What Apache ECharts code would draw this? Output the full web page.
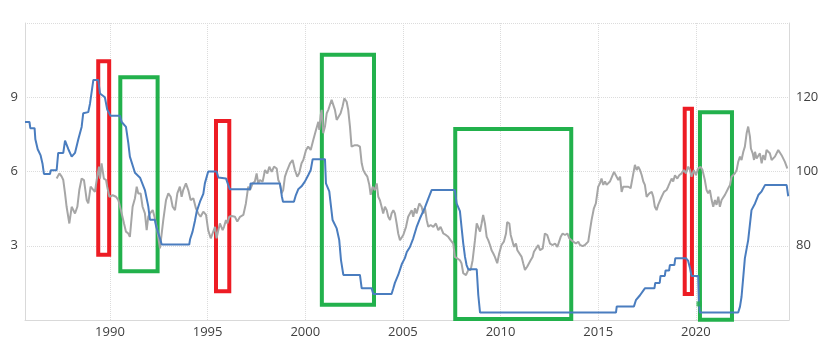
<!DOCTYPE html>
<html lang="en">
<head>
    <meta charset="utf-8">
    <script src="https://cdn.jsdelivr.net/npm/echarts@6/dist/echarts.min.js"></script>
    <title>rate_vs_index</title>
</head>
<body>
<style>
    html, body, #main {
        width: 100%;
        height: 100%;
        margin: 0;
        background: #fff;
    }
</style>
<div id='main'></div>
<script>
    // policy rate (left axis), step line
    var rateYears = [1985.65, 1985.88, 1985.92, 1986.14, 1986.18, 1986.30, 1986.45, 1986.55, 1986.62, 1986.93,
        1986.97, 1987.27, 1987.35, 1987.61, 1987.70, 1987.87, 1988.04, 1988.21, 1988.38, 1988.55,
        1988.63, 1988.89, 1988.98, 1989.15, 1989.40, 1989.49, 1989.74, 1989.86, 1990.03, 1990.51,
        1990.60, 1990.82, 1990.94, 1991.02, 1991.28, 1991.54, 1991.79, 1991.96, 1992.05, 1992.30,
        1992.36, 1992.56, 1992.65, 1994.06, 1994.10, 1994.23, 1994.35, 1994.44, 1994.61, 1994.78,
        1994.86, 1995.03, 1995.46, 1995.55, 1995.94, 1996.06, 1996.14, 1997.17, 1997.20, 1998.70,
        1998.76, 1998.80, 1998.86, 1999.42, 1999.52, 1999.64, 1999.81, 1999.98, 2000.15, 2000.28,
        2000.38, 2001.01, 2001.06, 2001.23, 2001.30, 2001.40, 2001.61, 2001.74, 2001.83, 2001.95,
        2002.80, 2002.89, 2003.40, 2003.48, 2004.42, 2004.51, 2004.59, 2004.76, 2004.94, 2005.10,
        2005.20, 2005.36, 2005.53, 2005.70, 2005.87, 2006.13, 2006.30, 2006.47, 2007.66, 2007.75,
        2007.92, 2008.00, 2008.09, 2008.18, 2008.26, 2008.35, 2008.78, 2008.86, 2008.95, 2015.91,
        2015.95, 2016.83, 2016.93, 2017.14, 2017.39, 2017.88, 2017.92, 2018.15, 2018.19, 2018.41,
        2018.45, 2018.63, 2018.67, 2018.90, 2018.95, 2019.49, 2019.60, 2019.70, 2019.78, 2020.12,
        2020.16, 2020.21, 2022.17, 2022.26, 2022.34, 2022.43, 2022.51, 2022.68, 2022.77, 2022.85,
        2023.03, 2023.20, 2023.37, 2023.54, 2024.65, 2024.73];
    var rateValues = [8.0, 8.0, 7.75, 7.75, 7.3, 6.9, 6.65, 6.3, 5.9, 5.9,
        6.05, 6.05, 6.75, 6.75, 7.25, 6.9, 6.6, 6.75, 7.3, 7.8,
        8.35, 8.4, 8.75, 9.7, 9.7, 9.15, 9.0, 8.5, 8.25, 8.25,
        8.0, 7.8, 7.15, 6.6, 5.95, 5.75, 5.25, 4.6, 4.05, 4.05,
        3.8, 3.3, 3.05, 3.05, 3.25, 3.57, 4.0, 4.38, 4.78, 5.1,
        5.52, 6.0, 6.0, 5.76, 5.72, 5.45, 5.28, 5.28, 5.52, 5.52,
        5.25, 5.0, 4.78, 4.78, 5.05, 5.28, 5.4, 5.59, 5.85, 6.06,
        6.5, 6.5, 5.52, 5.2, 4.71, 4.04, 3.7, 3.23, 2.42, 1.82,
        1.82, 1.28, 1.28, 1.05, 1.05, 1.28, 1.5, 1.82, 2.25, 2.5,
        2.75, 2.95, 3.3, 3.75, 4.1, 4.55, 4.9, 5.25, 5.25, 4.71,
        4.4, 3.77, 3.1, 2.55, 2.22, 2.05, 2.05, 1.01, 0.3, 0.3,
        0.55, 0.55, 0.8, 1.0, 1.28, 1.28, 1.5, 1.5, 1.78, 1.78,
        2.0, 2.0, 2.22, 2.22, 2.5, 2.5, 2.4, 2.1, 1.78, 1.78,
        0.65, 0.3, 0.3, 0.54, 0.94, 1.75, 2.49, 3.23, 3.3, 4.44,
        4.71, 5.05, 5.2, 5.45, 5.45, 5.0];

    // index (right axis)
    var indexYears = [1987.27, 1987.41, 1987.53, 1987.61, 1987.70, 1987.78, 1987.92, 1988.04, 1988.12, 1988.21,
        1988.33, 1988.43, 1988.55, 1988.67, 1988.81, 1988.89, 1989.01, 1989.11, 1989.23, 1989.32,
        1989.44, 1989.49, 1989.57, 1989.69, 1989.80, 1989.86, 1989.97, 1990.14, 1990.31, 1990.43,
        1990.60, 1990.72, 1990.82, 1990.94, 1991.02, 1991.16, 1991.28, 1991.37, 1991.45, 1991.57,
        1991.67, 1991.79, 1991.88, 1991.96, 1992.05, 1992.19, 1992.30, 1992.42, 1992.56, 1992.65,
        1992.73, 1992.87, 1992.99, 1993.11, 1993.21, 1993.33, 1993.45, 1993.58, 1993.67, 1993.75,
        1993.89, 1994.01, 1994.13, 1994.27, 1994.40, 1994.52, 1994.64, 1994.78, 1994.92, 1995.03,
        1995.16, 1995.26, 1995.38, 1995.46, 1995.55, 1995.63, 1995.77, 1995.84, 1995.94, 1996.01,
        1996.11, 1996.23, 1996.40, 1996.52, 1996.66, 1996.83, 1996.96, 1997.08, 1997.17, 1997.31,
        1997.42, 1997.51, 1997.59, 1997.68, 1997.82, 1997.94, 1998.06, 1998.16, 1998.28, 1998.40,
        1998.54, 1998.62, 1998.70, 1998.79, 1998.87, 1998.96, 1999.08, 1999.22, 1999.35, 1999.47,
        1999.59, 1999.69, 1999.81, 1999.90, 2000.04, 2000.15, 2000.28, 2000.41, 2000.55, 2000.67,
        2000.72, 2000.79, 2000.84, 2000.92, 2001.01, 2001.10, 2001.18, 2001.26, 2001.35, 2001.43,
        2001.52, 2001.61, 2001.69, 2001.81, 2001.91, 2002.00, 2002.12, 2002.20, 2002.29, 2002.37,
        2002.46, 2002.54, 2002.66, 2002.80, 2002.89, 2002.97, 2003.06, 2003.18, 2003.28, 2003.35,
        2003.45, 2003.57, 2003.66, 2003.74, 2003.82, 2003.91, 2003.99, 2004.08, 2004.17, 2004.25,
        2004.34, 2004.42, 2004.51, 2004.59, 2004.68, 2004.76, 2004.85, 2004.94, 2005.02, 2005.16,
        2005.27, 2005.36, 2005.45, 2005.53, 2005.62, 2005.70, 2005.84, 2005.96, 2006.04, 2006.13,
        2006.22, 2006.30, 2006.42, 2006.56, 2006.69, 2006.81, 2006.93, 2007.07, 2007.20, 2007.32,
        2007.44, 2007.58, 2007.66, 2007.78, 2007.92, 2008.00, 2008.09, 2008.23, 2008.35, 2008.47,
        2008.57, 2008.69, 2008.78, 2008.86, 2008.95, 2009.03, 2009.11, 2009.20, 2009.29, 2009.37,
        2009.46, 2009.54, 2009.63, 2009.71, 2009.83, 2009.93, 2010.05, 2010.17, 2010.28, 2010.34,
        2010.45, 2010.52, 2010.62, 2010.69, 2010.79, 2010.86, 2010.96, 2011.08, 2011.16, 2011.25,
        2011.37, 2011.47, 2011.54, 2011.64, 2011.71, 2011.81, 2011.93, 2012.02, 2012.16, 2012.27,
        2012.39, 2012.53, 2012.67, 2012.79, 2012.91, 2013.01, 2013.08, 2013.18, 2013.30, 2013.42,
        2013.52, 2013.59, 2013.72, 2013.86, 2013.98, 2014.07, 2014.21, 2014.32, 2014.41, 2014.49,
        2014.58, 2014.66, 2014.78, 2014.88, 2015.00, 2015.09, 2015.17, 2015.26, 2015.35, 2015.43,
        2015.52, 2015.60, 2015.69, 2015.81, 2015.91, 2016.03, 2016.12, 2016.20, 2016.28, 2016.42,
        2016.54, 2016.66, 2016.80, 2016.88, 2016.97, 2017.05, 2017.14, 2017.23, 2017.31, 2017.39,
        2017.48, 2017.62, 2017.74, 2017.82, 2017.90, 2017.99, 2018.07, 2018.16, 2018.25, 2018.37,
        2018.50, 2018.58, 2018.67, 2018.76, 2018.84, 2018.93, 2019.05, 2019.15, 2019.27, 2019.39,
        2019.49, 2019.61, 2019.70, 2019.78, 2019.90, 2020.00, 2020.12, 2020.24, 2020.34, 2020.46,
        2020.55, 2020.63, 2020.72, 2020.81, 2020.89, 2020.98, 2021.06, 2021.15, 2021.23, 2021.32,
        2021.40, 2021.49, 2021.58, 2021.66, 2021.75, 2021.83, 2021.92, 2022.00, 2022.09, 2022.17,
        2022.26, 2022.34, 2022.43, 2022.51, 2022.60, 2022.68, 2022.77, 2022.82, 2022.91, 2022.98,
        2023.03, 2023.11, 2023.20, 2023.28, 2023.37, 2023.45, 2023.54, 2023.62, 2023.71, 2023.79,
        2023.88, 2023.96, 2024.05, 2024.13, 2024.22, 2024.30, 2024.39, 2024.47, 2024.56, 2024.65,
        2024.68];
    var indexValues = [98.1, 99.5, 98.6, 97.7, 94.1, 90.5, 86.0, 90.5, 90.1, 88.7,
        90.5, 95.0, 98.1, 97.7, 92.3, 91.4, 95.9, 96.3, 94.5, 97.7,
        101.3, 98.1, 102.2, 98.1, 97.7, 95.9, 93.2, 93.6, 93.2, 92.3,
        88.7, 86.0, 83.8, 83.3, 82.4, 90.5, 92.8, 95.9, 94.1, 94.1,
        90.5, 88.7, 84.2, 87.8, 88.7, 89.6, 87.4, 84.2, 79.3, 79.7,
        86.9, 92.3, 94.1, 93.2, 90.5, 89.6, 94.1, 95.9, 93.2, 95.0,
        96.8, 95.0, 92.3, 92.8, 90.1, 88.7, 87.8, 89.2, 88.3, 84.2,
        82.0, 82.4, 85.1, 82.0, 84.2, 86.0, 84.2, 85.1, 86.9, 86.0,
        87.8, 88.0, 87.8, 86.5, 87.8, 88.3, 91.4, 95.9, 95.0, 96.8,
        97.3, 99.5, 96.8, 97.7, 97.3, 100.4, 99.5, 101.3, 99.9, 101.3,
        100.8, 97.7, 96.8, 94.1, 95.0, 98.6, 100.4, 102.2, 103.1, 100.4,
        98.6, 99.5, 102.2, 103.1, 105.8, 106.7, 105.8, 108.5, 111.2, 113.4,
        111.2, 115.2, 116.6, 110.3, 112.1, 115.7, 116.6, 117.9, 119.3, 119.7,
        116.6, 113.9, 113.4, 115.7, 117.5, 119.7, 118.8, 116.6, 112.1, 106.7,
        106.2, 107.1, 107.1, 106.7, 102.2, 100.4, 99.5, 98.6, 96.4, 93.7,
        95.9, 95.0, 96.8, 93.2, 92.3, 90.5, 88.7, 90.5, 89.6, 87.8,
        86.9, 88.7, 89.6, 88.7, 86.0, 83.3, 81.5, 82.0, 82.9, 85.1,
        87.8, 88.7, 89.6, 87.8, 90.1, 88.7, 91.4, 90.5, 88.7, 90.1,
        86.9, 85.1, 85.6, 85.1, 86.0, 84.2, 85.1, 83.3, 82.9, 82.4,
        81.5, 80.6, 77.0, 76.6, 76.1, 75.3, 72.6, 72.1, 73.5, 73.5,
        76.1, 81.5, 86.0, 86.4, 83.8, 86.0, 88.3, 86.0, 82.4, 81.5,
        80.2, 78.8, 77.9, 77.0, 75.3, 77.9, 80.2, 81.1, 83.3, 86.4,
        86.0, 82.9, 82.4, 79.7, 80.6, 78.8, 78.4, 77.0, 75.3, 73.5,
        74.4, 74.8, 76.1, 77.0, 78.4, 78.8, 80.2, 78.8, 79.3, 83.3,
        82.9, 80.6, 80.2, 80.6, 79.7, 79.7, 82.4, 83.3, 82.9, 83.3,
        82.0, 81.5, 81.1, 80.6, 81.1, 80.2, 79.9, 80.2, 79.7, 81.1,
        84.2, 86.9, 90.1, 91.4, 95.9, 96.8, 98.1, 96.4, 97.3, 96.4,
        96.8, 97.3, 96.8, 99.9, 99.5, 97.7, 98.6, 94.5, 95.9, 95.9,
        95.9, 95.5, 99.5, 101.8, 100.4, 101.3, 100.4, 99.0, 97.3, 96.4,
        93.2, 94.1, 94.5, 93.2, 90.5, 89.6, 91.0, 90.5, 93.2, 94.5,
        95.0, 95.9, 96.4, 98.1, 97.3, 99.0, 98.1, 99.0, 99.5, 100.4,
        99.5, 101.3, 100.4, 98.6, 100.4, 99.0, 100.8, 101.3, 100.4, 97.7,
        95.0, 94.1, 95.0, 92.3, 90.5, 92.3, 91.0, 93.2, 90.5, 92.3,
        91.9, 93.7, 94.1, 95.5, 96.4, 98.6, 99.0, 99.5, 100.4, 102.6,
        104.0, 103.1, 105.3, 106.7, 110.3, 112.1, 109.4, 106.2, 104.9, 103.1,
        105.3, 103.5, 103.1, 104.9, 102.2, 104.4, 103.1, 105.8, 106.2, 104.9,
        103.1, 102.6, 104.0, 103.5, 105.8, 105.3, 104.4, 104.0, 102.6, 101.3,
        100.8];

    var yearTicks = [1990, 1995, 2000, 2005, 2010, 2015, 2020];

    // highlighted periods: [fromYear, topRate, toYear, bottomRate]
    var redBoxes = [
        [1989.40, 10.45, 1989.96, 2.64],
        [1995.43, 8.04, 1996.11, 1.16],
        [2019.43, 8.54, 2019.80, 1.05]
    ];
    var greenBoxes = [
        [1990.53, 9.81, 1992.44, 1.97],
        [2000.85, 10.72, 2003.52, 0.62],
        [2007.68, 7.72, 2013.62, 0.04],
        [2020.21, 8.39, 2021.85, 0.01]
    ];
    var greenMark = [[2020.16, 0.65]];

    function zip(xs, ys) {
        var out = [];
        for (var i = 0; i < xs.length; i++) {
            out.push([xs[i], ys[i]]);
        }
        return out;
    }

    function boxes(list, color) {
        return list.map(function (b) {
            return [
                {coord: [b[0], b[1]], itemStyle: {color: 'rgba(0,0,0,0)', borderColor: color, borderWidth: 4}},
                {coord: [b[2], b[3]]}
            ];
        });
    }

    var labelFont = {color: '#404040', fontSize: 13, fontFamily: 'Open Sans, Liberation Sans, sans-serif'};
    var gridLine = {show: true, lineStyle: {color: '#dcdcdc', type: 'dotted', width: 1}};

    var chart = echarts.init(document.getElementById('main'));
    var option = {
        animation: false,
        backgroundColor: '#fff',
        grid: {left: 25, right: 43, top: 23, bottom: 31},
        xAxis: {
            type: 'value',
            min: 1985.65,
            max: 2024.77,
            axisLine: {show: true, lineStyle: {color: '#d9d9d9'}},
            axisTick: {show: false, customValues: yearTicks},
            axisLabel: Object.assign({customValues: yearTicks, margin: 6,
                formatter: function (v) { return String(Math.round(v)); }}, labelFont),
            splitLine: gridLine
        },
        yAxis: [{
            type: 'value',
            min: 0,
            max: 12,
            interval: 3,
            position: 'left',
            axisLine: {show: true, lineStyle: {color: '#d9d9d9'}},
            axisTick: {show: false},
            axisLabel: Object.assign({showMinLabel: false, showMaxLabel: false, margin: 7}, labelFont),
            splitLine: gridLine
        }, {
            type: 'value',
            min: 60,
            max: 140,
            interval: 20,
            position: 'right',
            axisLine: {show: true, lineStyle: {color: '#d9d9d9'}},
            axisTick: {show: false},
            axisLabel: Object.assign({showMinLabel: false, showMaxLabel: false, margin: 7}, labelFont),
            splitLine: {show: false}
        }],
        series: [{
            name: 'index',
            type: 'line',
            yAxisIndex: 1,
            data: zip(indexYears, indexValues),
            showSymbol: false,
            lineStyle: {color: '#a6a6a6', width: 2},
            itemStyle: {color: '#a6a6a6'},
            z: 2
        }, {
            name: 'rate',
            type: 'line',
            yAxisIndex: 0,
            data: zip(rateYears, rateValues),
            showSymbol: false,
            lineStyle: {color: '#4a7dbf', width: 2},
            itemStyle: {color: '#4a7dbf'},
            z: 3
        }, {
            name: 'marks',
            type: 'scatter',
            yAxisIndex: 0,
            data: greenMark,
            symbol: 'rect',
            symbolSize: 5,
            itemStyle: {color: '#22b14c'},
            clip: false,
            z: 5,
            markArea: {
                silent: true,
                label: {show: false},
                data: boxes(redBoxes, '#ed1c24').concat(boxes(greenBoxes, '#22b14c'))
            }
        }]
    };
    chart.setOption(option);

    window.onresize = chart.resize;
</script>
</body>
</html>
